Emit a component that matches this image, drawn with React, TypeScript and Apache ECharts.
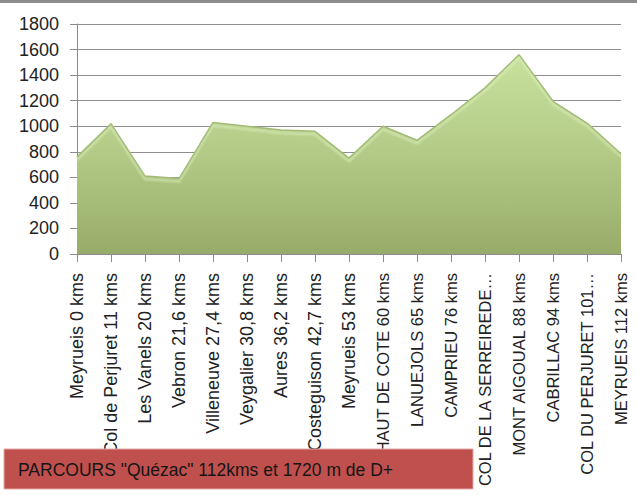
import React, { useEffect, useRef } from "react";
import * as echarts from "echarts";

const categories: string[] = [
  "Meyrueis 0 kms",
  "Col de Perjuret 11 kms",
  "Les Vanels 20 kms",
  "Vebron 21,6 kms",
  "Villeneuve 27,4 kms",
  "Veygalier 30,8 kms",
  "Aures 36,2 kms",
  "Costeguison 42,7 kms",
  "Meyrueis 53 kms",
  "HAUT DE COTE 60 kms",
  "LANUEJOLS 65 kms",
  "CAMPRIEU 76 kms",
  "COL DE LA SERREIREDE…",
  "MONT AIGOUAL 88 kms",
  "CABRILLAC 94 kms",
  "COL DU PERJURET 101…",
  "MEYRUEIS 112 kms",
];

const altitudes: number[] = [
  760, 1020, 610, 590, 1030, 1000, 970, 960, 750, 1000, 890, 1090, 1300, 1560, 1195, 1025, 785,
];

const yTicks = { min: 0, max: 1800, interval: 200 };
const titleText = 'PARCOURS "Quézac" 112kms et 1720 m de D+';

const FONT = "'Liberation Sans', Arial, sans-serif";

export default function App() {
  const ref = useRef<HTMLDivElement>(null);
  useEffect(() => {
    if (!ref.current) return;
    const chart = echarts.init(ref.current, undefined, { renderer: "svg" });
    chart.setOption({
      animation: false,
      backgroundColor: "#ffffff",
      grid: {
        left: 77,
        right: 16,
        top: 24,
        bottom: 241,
        containLabel: false,
        outerBoundsMode: "none",
      },
      xAxis: {
        type: "category",
        data: categories,
        boundaryGap: false,
        axisLine: { show: true, lineStyle: { color: "#8c8c8c", width: 1 } },
        axisTick: { show: true, length: 8, lineStyle: { color: "#8c8c8c" } },
        axisLabel: {
          rotate: 90,
          interval: 0,
          margin: 19,
          fontSize: 18,
          fontFamily: FONT,
          color: "#222222",
          hideOverlap: false,
          formatter: (name: string) =>
            /^[A-Z]{2,}/.test(name) ? `{u|${name}}` : `{n|${name}}`,
          rich: {
            n: { fontSize: 18, fontFamily: FONT, color: "#222222" },
            u: { fontSize: 16.5, fontFamily: FONT, color: "#222222" },
          },
        },
        splitLine: { show: false },
      },
      yAxis: {
        type: "value",
        min: yTicks.min,
        max: yTicks.max,
        interval: yTicks.interval,
        axisLine: { show: true, lineStyle: { color: "#8c8c8c", width: 1 } },
        axisTick: { show: true, length: 7, lineStyle: { color: "#8c8c8c" } },
        axisLabel: {
          margin: 18,
          fontSize: 18,
          fontFamily: FONT,
          color: "#222222",
          formatter: (v: number) => String(v),
        },
        splitLine: { show: true, lineStyle: { color: "#8f8f8f", width: 1 } },
      },
      series: [
        {
          type: "line",
          data: altitudes,
          symbol: "none",
          smooth: false,
          lineStyle: {
            color: "#a3bd77",
            width: 1.5,
            shadowColor: "rgba(222,240,192,0.95)",
            shadowBlur: 2,
            shadowOffsetY: 3,
          },
          areaStyle: {
            opacity: 1,
            color: new echarts.graphic.LinearGradient(0, 0, 0, 1, [
              { offset: 0, color: "#c8e29e" },
              { offset: 0.5, color: "#b2ca86" },
              { offset: 1, color: "#98ac6a" },
            ]),
          },
        },
      ],
      graphic: [
        {
          type: "rect",
          left: 0,
          top: 0,
          shape: { width: 637, height: 3 },
          style: { fill: "#8c8c8c" },
          z: 100,
        },
        {
          type: "rect",
          shape: { x: 4, y: 449, width: 469, height: 40 },
          style: { fill: "#c0504d", stroke: "#e3a8a6", lineWidth: 1 },
          z: 100,
        },
        {
          type: "text",
          x: 18,
          y: 470,
          style: {
            text: titleText,
            fontSize: 17.5,
            fontFamily: FONT,
            fill: "#151515",
            verticalAlign: "middle",
            align: "left",
          },
          z: 101,
        },
      ],
    });
    return () => chart.dispose();
  }, []);
  return (
    <div
      ref={ref}
      style={{ position: "fixed", left: 0, top: 0, width: 637, height: 495 }}
    />
  );
}
